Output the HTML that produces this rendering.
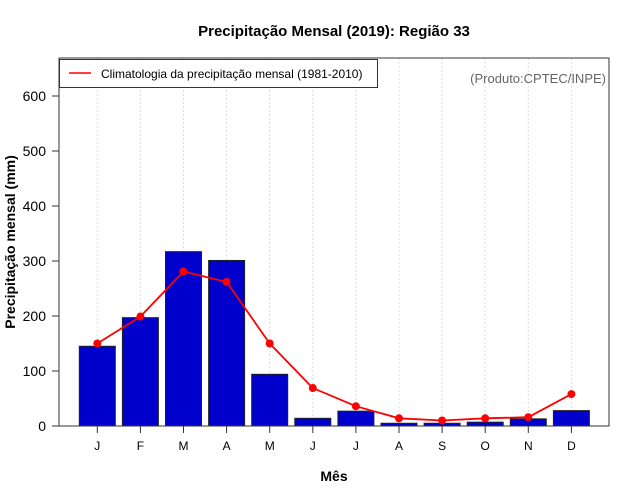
<!DOCTYPE html>
<html><head><meta charset="utf-8"><style>
body{margin:0;background:#fff}
svg{display:block;font-family:"Liberation Sans",sans-serif}
</style></head><body>
<svg id="c" width="640" height="500">
<text x="334" y="36" text-anchor="middle" font-size="15" font-weight="bold">Precipitação Mensal (2019): Região 33</text>
<text x="334" y="481" text-anchor="middle" font-size="14" font-weight="bold">Mês</text>
<text transform="translate(15,242) rotate(-90)" text-anchor="middle" font-size="14" font-weight="bold">Precipitação mensal (mm)</text>
<g id="grid"></g><g id="bars"></g><g id="line"></g><g id="axes"></g>
<rect x="59" y="58" width="550" height="368" fill="none" stroke="#333" stroke-width="1"/>
<g>
<rect x="59.5" y="59.5" width="318" height="28" fill="#fff" stroke="#333"/>
<line x1="69" y1="73" x2="91" y2="73" stroke="red" stroke-width="1.5"/>
<text x="101" y="78" font-size="12">Climatologia da precipitação mensal (1981-2010)</text>
</g>
<text x="606" y="83" text-anchor="end" font-size="13" fill="#666">(Produto:CPTEC/INPE)</text>
</svg>
<script>
const months=["J","F","M","A","M","J","J","A","S","O","N","D"];
const precip=[145,197,317,301,94,14,27,5,5,7,13,28];
const clim=[150,199,281,262,150,69,36,14,10,14,16,58];
const yTicks=[0,100,200,300,400,500,600];
const ns="http://www.w3.org/2000/svg";
const X=i=>97.3+i*43.1, Y=v=>426-v*0.55;
function mk(t,a,p){const e=document.createElementNS(ns,t);for(const k in a)e.setAttribute(k,a[k]);p.appendChild(e);return e;}
const G=document.getElementById('grid'),B=document.getElementById('bars'),L=document.getElementById('line'),A=document.getElementById('axes');
months.forEach((m,i)=>{
 const g=mk('line',{x1:X(i),x2:X(i),y1:58,y2:426,stroke:'#ddd','stroke-dasharray':'2,2'},G);
 
 
 const r=mk('rect',{x:X(i)-18,y:Y(precip[i]),width:36,height:precip[i]*0.55,fill:'#0000cc',stroke:'#222','stroke-width':1},B);
 
 
 const t=mk('line',{x1:X(i),x2:X(i),y1:426,y2:433,stroke:'#333'},A);
 
 
 const tx=mk('text',{x:X(i),y:450,'text-anchor':'middle','font-size':12},A);tx.textContent=m;
 
 
});
const pl=mk('polyline',{points:clim.map((v,i)=>X(i)+','+Y(v)).join(' '),fill:'none',stroke:'red','stroke-width':1.8},L);


clim.forEach((v,i)=>{const c=mk('circle',{cx:X(i),cy:Y(v),r:4,fill:'red'},L);
 
 });
yTicks.forEach(v=>{
 const t=mk('line',{x1:52,x2:59,y1:Y(v),y2:Y(v),stroke:'#333'},A);
 
 
 const tx=mk('text',{x:46,y:Y(v)+5,'text-anchor':'end','font-size':14},A);tx.textContent=v;
 
 
});
</script>
</body></html>
